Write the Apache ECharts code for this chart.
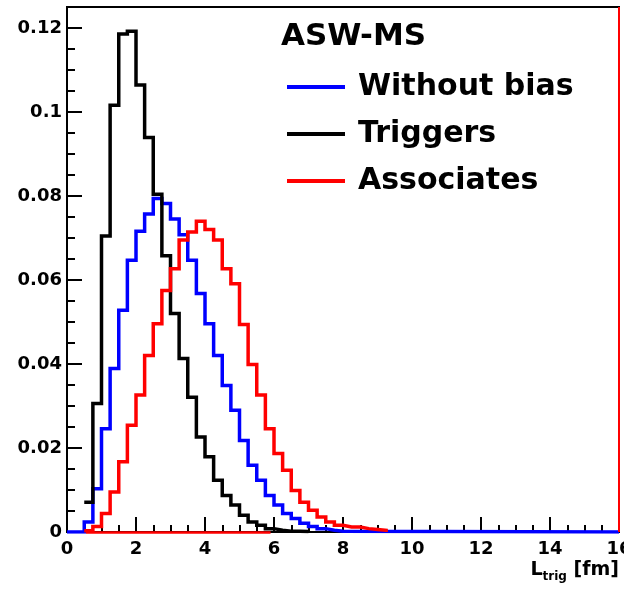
<!DOCTYPE html>
<html>
<head>
<meta charset="utf-8">
<script src="https://cdn.jsdelivr.net/npm/echarts@6/dist/echarts.min.js"></script>
<style>
  html, body { margin: 0; padding: 0; background: #fff; }
  #chart { width: 624px; height: 589px; }
</style>
</head>
<body>
<div id="chart"></div>
<script>
// Path-length distributions, 0.25 fm bins, each list starts at its first bin edge
const binWidth = 0.25;
const xTicks = [0, 2, 4, 6, 8, 10, 12, 14, 16];
const yTicks = [0, 0.02, 0.04, 0.06, 0.08, 0.1, 0.12];

const withoutBiasStart = 0.5;
const withoutBias = [0.0024, 0.0103, 0.0246, 0.0389, 0.0528, 0.0647, 0.0716, 0.0757,
  0.0794, 0.0782, 0.0745, 0.0708, 0.0647, 0.0568, 0.0496, 0.0420, 0.0349, 0.0290,
  0.0218, 0.0159, 0.0123, 0.0087, 0.0064, 0.0044, 0.0032, 0.0021, 0.0013, 0.0008,
  0.0004, 0.0002];

const triggersStart = 0.5;
const triggers = [0.0071, 0.0306, 0.0705, 0.1016, 0.1186, 0.1192, 0.1064, 0.0939,
  0.0804, 0.0658, 0.0520, 0.0413, 0.0321, 0.0226, 0.0179, 0.0123, 0.0087, 0.0064,
  0.0040, 0.0024, 0.0016, 0.0008, 0.0004, 0.0002, 0.0002, 0.0001];

const associatesStart = 0.5;
const associates = [0.0003, 0.0013, 0.0044, 0.0095, 0.0167, 0.0254, 0.0326, 0.0420,
  0.0496, 0.0575, 0.0627, 0.0695, 0.0714, 0.0740, 0.0720, 0.0695, 0.0627, 0.0591,
  0.0494, 0.0399, 0.0326, 0.0246, 0.0187, 0.0147, 0.0099, 0.0071, 0.0052, 0.0036,
  0.0024, 0.0016, 0.0012, 0.0012, 0.0008, 0.0006, 0.0004];

// red line segment lying on the axis, and the red right-hand edge
const associatesBaseline = [0.55, 5.9];
const xMax = 16;
const yMax = 0.125;

const FONT = 'DejaVu Sans';

// bin contents -> step outline points (lower edge of each bin, then close at the last upper edge)
function histPoints(start, values, fromZero, toEnd) {
  const pts = [];
  if (fromZero) pts.push([0, 0]);
  values.forEach((v, i) => pts.push([start + i * binWidth, v]));
  pts.push([start + values.length * binWidth, 0]);
  if (toEnd) pts.push([xMax, 0]);
  return pts;
}

const chart = echarts.init(document.getElementById('chart'), null, { renderer: 'canvas' });

const stepSeries = (name, color, data, z) => ({
  name, type: 'line', step: 'end', data, z,
  showSymbol: false, symbol: 'none', animation: false,
  lineStyle: { color, width: 3.5, cap: 'butt', join: 'miter' },
  itemStyle: { color }
});

const red = stepSeries('Associates', '#ff0000',
  histPoints(associatesStart, associates, false, false), 4);
red.markLine = {
  silent: true, symbol: 'none', animation: false,
  label: { show: false },
  lineStyle: { color: '#ff0000', type: 'solid', width: 2.5 },
  data: [
    [{ coord: [associatesBaseline[0], 0] }, { coord: [associatesBaseline[1], 0] }],
    { xAxis: xMax, lineStyle: { width: 2 } }
  ]
};

chart.setOption({
  animation: false,
  backgroundColor: '#fff',
  title: {
    text: 'ASW-MS', left: 281, top: 21, padding: 0,
    textStyle: { fontFamily: FONT, fontWeight: 'bold', fontSize: 31, color: '#000' }
  },
  legend: {
    orient: 'vertical', left: 287, top: 70, padding: 0,
    itemWidth: 58, itemHeight: 4, itemGap: 13, icon: 'rect',
    data: ['Without bias', 'Triggers', 'Associates'],
    textStyle: { fontFamily: FONT, fontWeight: 'bold', fontSize: 30, lineHeight: 34,
      color: '#000', padding: [0, 0, 0, 8] }
  },
  grid: {
    left: 67, right: 5, top: 7, bottom: 57,
    outerBoundsMode: 'none', containLabel: false,
    show: true, borderColor: '#000', borderWidth: 2, backgroundColor: 'transparent'
  },
  xAxis: {
    type: 'value', min: xTicks[0], max: xTicks[xTicks.length - 1], interval: xTicks[1] - xTicks[0],
    axisLine: { show: true, onZero: false, lineStyle: { color: '#000', width: 2 } },
    axisTick: { show: true, inside: true, length: 15, lineStyle: { color: '#000', width: 2 } },
    minorTick: { show: true, splitNumber: 4, length: 7, lineStyle: { color: '#000', width: 2 } },
    splitLine: { show: false },
    axisLabel: { fontFamily: FONT, fontWeight: 'bold', fontSize: 18, color: '#000', margin: 8,
      hideOverlap: false },
    name: '{a|L}{b|trig}{a| [fm]}',
    nameLocation: 'end', nameGap: 0, nameMoveOverlap: false,
    nameTextStyle: {
      align: 'right', verticalAlign: 'top', padding: [29, 0, 0, 0],
      rich: {
        a: { fontFamily: FONT, fontWeight: 'bold', fontSize: 19, color: '#000', lineHeight: 22, verticalAlign: 'top' },
        b: { fontFamily: FONT, fontWeight: 'bold', fontSize: 12, color: '#000', lineHeight: 14,
          verticalAlign: 'bottom', padding: [12, 0, 0, 0] }
      }
    }
  },
  yAxis: [
    {
      type: 'value', min: yTicks[0], max: yMax, interval: yTicks[1] - yTicks[0],
      axisLine: { show: true, onZero: false, lineStyle: { color: '#000', width: 2 } },
      axisTick: { show: true, inside: true, length: 15, lineStyle: { color: '#000', width: 2 } },
      splitLine: { show: false },
      axisLabel: {
        fontFamily: FONT, fontWeight: 'bold', fontSize: 18, color: '#000', margin: 5,
        showMaxLabel: false,
        formatter: v => (yTicks.some(t => Math.abs(t - v) < 1e-9) ? String(+v.toFixed(3)) : '')
      }
    },
    {
      type: 'value', min: yTicks[0], max: yMax, interval: 0.005, position: 'left',
      axisLine: { show: false },
      axisTick: { show: true, inside: true, length: 8, lineStyle: { color: '#000', width: 2 } },
      axisLabel: { show: false },
      splitLine: { show: false }
    }
  ],
  series: [
    stepSeries('Without bias', '#0000ff', histPoints(withoutBiasStart, withoutBias, true, true), 2),
    stepSeries('Triggers', '#000000', histPoints(triggersStart, triggers, false, false), 3),
    red
  ]
});
</script>
</body>
</html>
